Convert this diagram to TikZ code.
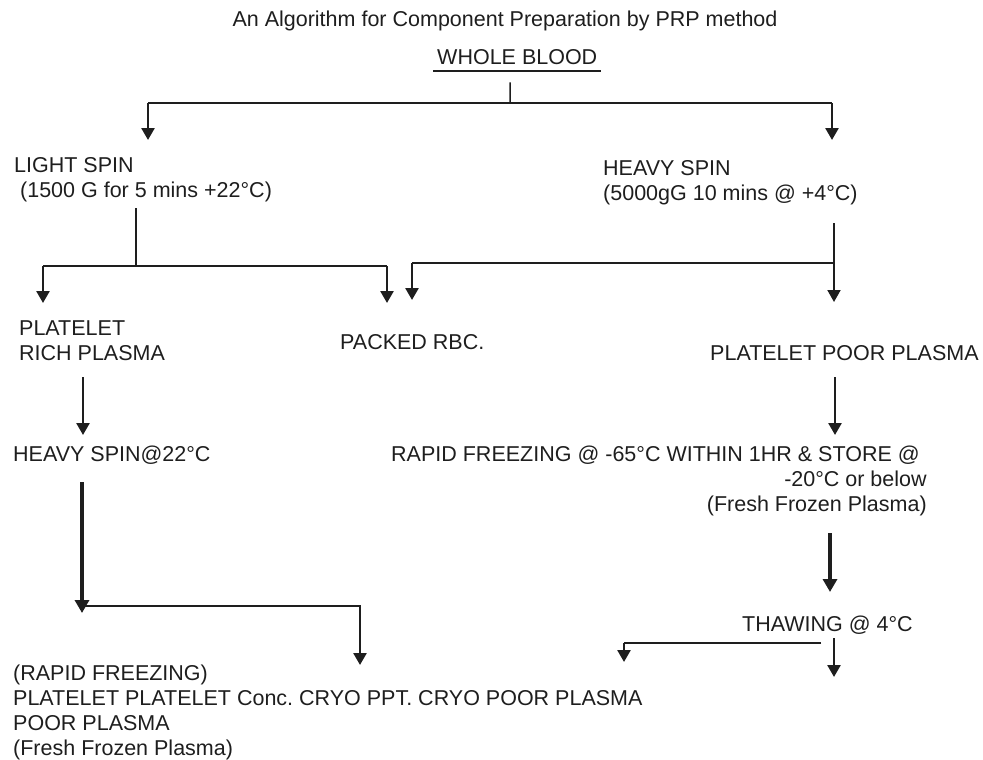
\documentclass[tikz,border=0pt]{standalone}
\usepackage{fontspec}
\setmainfont{Liberation Sans}
\usetikzlibrary{arrows.meta}
\frenchspacing

\definecolor{inkdark}{HTML}{1E1E1E}

\begin{document}
\begin{tikzpicture}[
    x=1pt, y=-1pt,
    txt/.style={inner sep=0pt, anchor=north west, align=left,
                font=\fontsize{21.5}{25}\selectfont, text=inkdark},
    bus/.style={line width=1.9pt, inkdark},
    stem/.style={line width=1.5pt, inkdark},
    flow/.style={-{Triangle[width=13pt,length=12pt]}, line width=2.6pt, inkdark},
    slimflow/.style={-{Triangle[width=13pt,length=12pt]}, line width=1.9pt, inkdark},
    bigflow/.style={-{Triangle[width=14pt,length=13pt]}, line width=3.8pt, inkdark},
]
\useasboundingbox (0,0) rectangle (983,760);

% --- Texts ---
\node[txt, anchor=base] (title) at (505,27)
    {An Algorithm for Component Preparation by PRP method};
\node[txt, anchor=base west] (wb) at (437,65) {WHOLE BLOOD};
\node[txt] (ls)   at (14,157)  {LIGHT SPIN\\~(1500 G for 5 mins +22°C)};
\node[txt] (hs)   at (603,160) {HEAVY SPIN\\(5000gG 10 mins @ +4°C)};
\node[txt] (prp)  at (19,321)  {PLATELET\\RICH PLASMA};
\node[txt] (rbc)  at (340,334) {PACKED RBC.};
\node[txt] (ppp)  at (710,345) {PLATELET POOR PLASMA};
\node[txt] (hs22) at (13,446)  {HEAVY SPIN@22°C};
\node[txt, align=right] (rf) at (391,446)
    {RAPID FREEZING @ -65°C WITHIN 1HR \& STORE @\hspace*{7pt}\\
     -20°C or below\\(Fresh Frozen Plasma)};
\node[txt] (thaw) at (742,616) {THAWING @ 4°C};
\node[txt] (prod) at (13,665)
    {(RAPID FREEZING)\\PLATELET PLATELET Conc. CRYO PPT. CRYO POOR PLASMA\\
     POOR PLASMA\\(Fresh Frozen Plasma)};

% underline of whole blood
\draw[line width=2.2pt, inkdark] ([shift={(-4,6)}]wb.base west)
    -- ([shift={(4,6)}]wb.base east);

% --- Whole blood split ---
\coordinate (wbfork) at (510,103);
\coordinate (lsin) at ([shift={(134,-17)}]ls.north west);
\coordinate (hsin) at ([shift={(229,-20)}]hs.north west);
\draw[stem] ([shift={(-7,17)}]wb.south) -- (wbfork);
\draw[bus] (lsin |- wbfork) -- (hsin |- wbfork);
\draw[flow] (lsin |- wbfork) -- (lsin);
\draw[flow] (hsin |- wbfork) -- (hsin);

% --- Light spin split ---
\coordinate (lsfork) at (136,266);
\coordinate (prpin) at ([shift={(24,-18)}]prp.north west);
\coordinate (rbcinL) at ([shift={(47,-31)}]rbc.north west);
\draw[stem] ([shift={(122,51)}]ls.north west) -- (lsfork);
\draw[bus] (prpin |- lsfork) -- (rbcinL |- lsfork);
\draw[flow] (prpin |- lsfork) -- (prpin);
\draw[flow] (rbcinL |- lsfork) -- (rbcinL);

% --- Heavy spin split ---
\coordinate (pppin) at ([shift={(124,-43)}]ppp.north west);
\coordinate (rbcinR) at ([shift={(72,-34)}]rbc.north west);
\coordinate (hsfork) at (834,263);
\draw[slimflow] ([shift={(231,63)}]hs.north west) -- (pppin);
\draw[bus] (hsfork) -- (rbcinR |- hsfork);
\draw[flow] (rbcinR |- hsfork) -- (rbcinR);

% --- Second step ---
\draw[flow] ([shift={(64,56)}]prp.north west)
    -- ([shift={(70,-11)}]hs22.north west);
\draw[flow] ([shift={(125,32)}]ppp.north west)
    -- ([shift={(444,-11)}]rf.north west);

% --- Heavy spin 22 to products ---
\coordinate (hs22out) at ([shift={(69,167)}]hs22.north west);
\coordinate (prodin) at ([shift={(347,0)}]prod.north west);
\draw[bigflow] ([shift={(69,36)}]hs22.north west) -- (hs22out);
\draw[bus] ([yshift=7pt]hs22out) -| ([yshift=-1pt]prodin |- 0,606);
\draw[flow] (prodin |- 0,606) -- (prodin);

% --- Freezing to thawing ---
\draw[bigflow] ([shift={(439,87)}]rf.north west)
    -- ([shift={(88,-24)}]thaw.north west);

% --- Thawing split ---
\coordinate (cryoin) at (624,662);
\coordinate (plasmain) at (834,677);
\draw[bus] ([shift={(79,27)}]thaw.north west) -- (cryoin |- 0,643);
\draw[flow] (cryoin |- 0,643) -- (cryoin);
\draw[flow] ([shift={(92,22)}]thaw.north west) -- (plasmain);

\end{tikzpicture}
\end{document}
